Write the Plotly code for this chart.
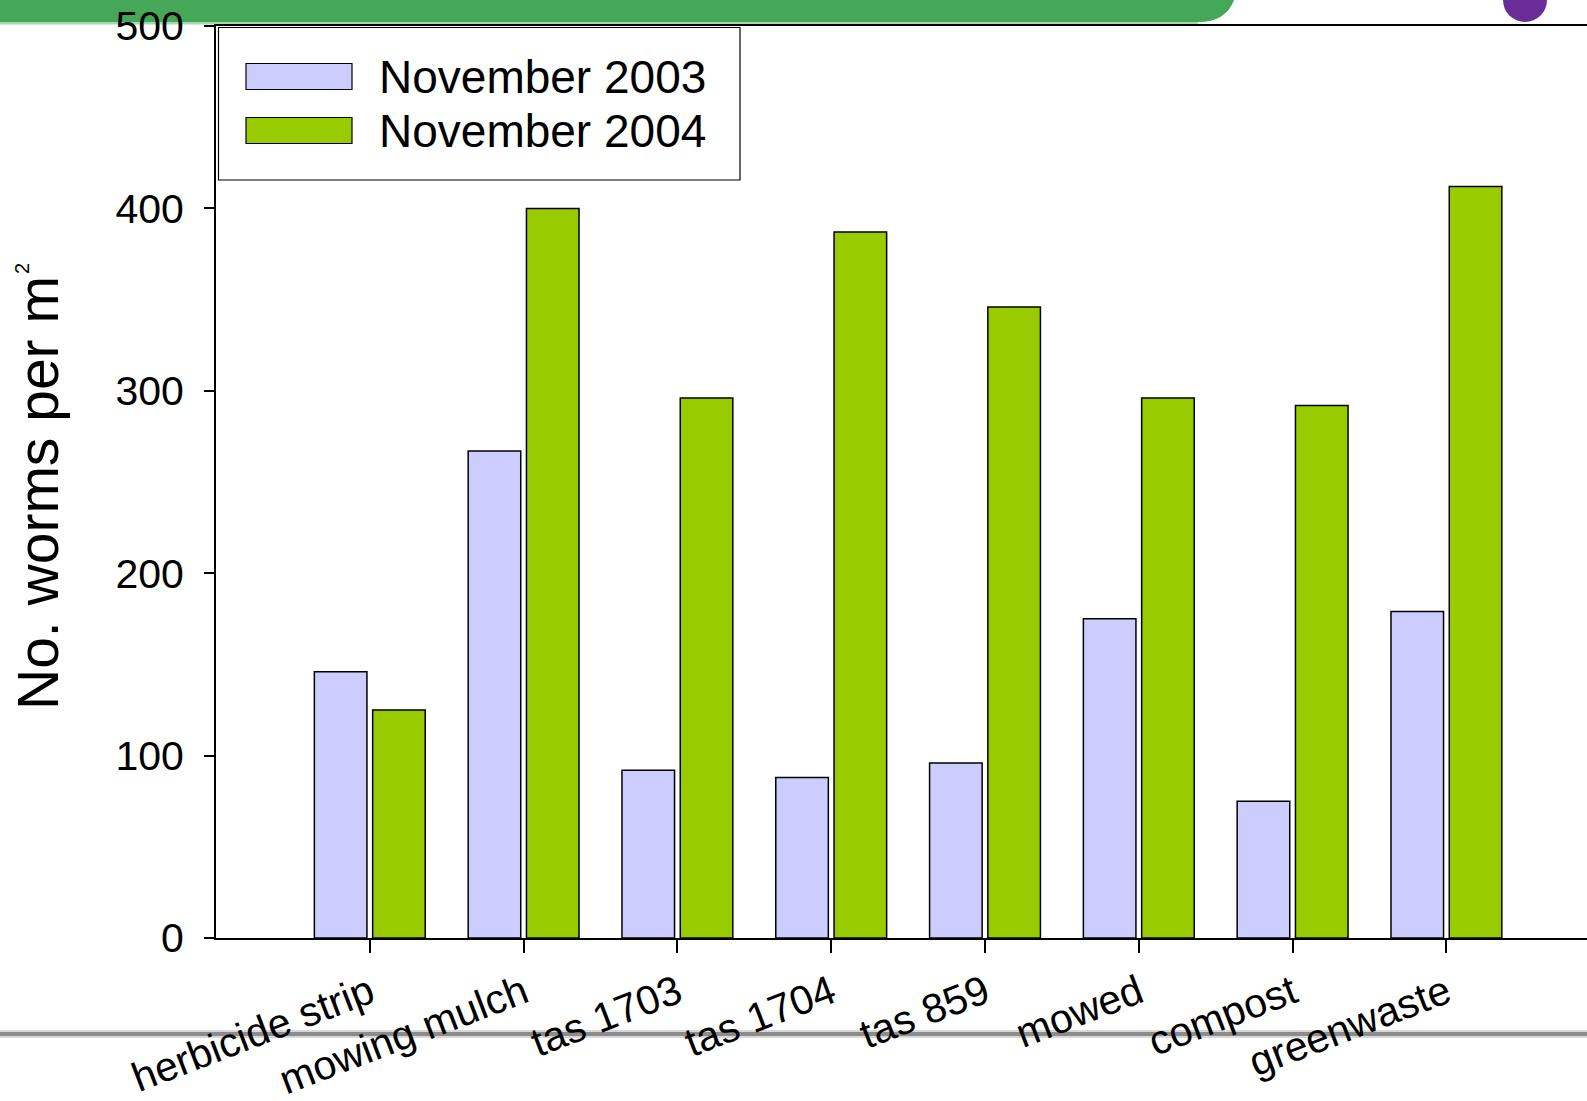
import plotly.graph_objects as go

# Earthworm counts per treatment, two sampling dates
treatments = ["herbicide strip", "mowing mulch", "tas 1703", "tas 1704",
              "tas 859", "mowed", "compost", "greenwaste"]
series_names = ["November 2003", "November 2004"]
nov_2003 = [146, 267, 92, 88, 96, 175, 75, 179]
nov_2004 = [125, 400, 296, 387, 346, 296, 292, 412]
y_ticks = [0, 100, 200, 300, 400, 500]

colors = ["#CCCCFF", "#99CC00"]
FONT = "Arial, 'Liberation Sans', sans-serif"

W, H = 1587, 1101
ML, MR, MT, MB = 216, 0, 26, 163
PW = W - ML - MR
PH = H - MT - MB


def px(x):
    return (x - ML) / PW


def py(y):
    return (H - MB - y) / PH


fig = go.Figure()
for name, vals, col in zip(series_names, [nov_2003, nov_2004], colors):
    fig.add_trace(go.Bar(
        x=treatments, y=vals, name=name,
        marker=dict(color=col, line=dict(color="black", width=1.5)),
        showlegend=False,
    ))

shapes = []
# slide header band
shapes.append(dict(type="path", xref="paper", yref="paper", layer="below",
                   path=(f"M {px(0)},{py(0)} L {px(1234)},{py(0)} "
                         f"Q {px(1226)},{py(22)} {px(1198)},{py(22)} "
                         f"L {px(0)},{py(22)} Z"),
                   fillcolor="#45A858", line=dict(width=0)))
shapes.append(dict(type="rect", xref="paper", yref="paper", layer="below",
                   x0=px(0), x1=px(1198), y0=py(22), y1=py(24.5),
                   fillcolor="#A9D6B2", line=dict(width=0)))
# purple dot
shapes.append(dict(type="circle", xref="paper", yref="paper", layer="below",
                   x0=px(1503), x1=px(1547), y0=py(22), y1=py(-22),
                   fillcolor="#6A2C96", line=dict(width=0)))
# footer rule
shapes.append(dict(type="rect", xref="paper", yref="paper", layer="below",
                   x0=px(0), x1=px(W), y0=py(1038), y1=py(1030),
                   fillcolor="#D8D8D8", line=dict(width=0)))
shapes.append(dict(type="rect", xref="paper", yref="paper", layer="below",
                   x0=px(0), x1=px(W), y0=py(1036), y1=py(1032),
                   fillcolor="#8C8C8C", line=dict(width=0)))

# legend box with wide swatches
shapes.append(dict(type="rect", xref="paper", yref="paper",
                   x0=px(218.5), x1=px(740), y0=py(180), y1=py(27.5),
                   fillcolor="white", line=dict(color="black", width=1.2)))
annotations = []
for i, (name, col) in enumerate(zip(series_names, colors)):
    top = 63.5 + i * 54
    shapes.append(dict(type="rect", xref="paper", yref="paper",
                       x0=px(246), x1=px(352), y0=py(top + 26), y1=py(top),
                       fillcolor=col, line=dict(color="black", width=1.2)))
    annotations.append(dict(xref="paper", yref="paper", x=px(377),
                            y=py(top + 13.5), xanchor="left", yanchor="middle",
                            text=name, showarrow=False,
                            font=dict(family=FONT, size=46, color="black")))

# y-axis title, with a small raised "2" for square metres
annotations.append(dict(xref="paper", yref="paper", x=px(38), y=py(493),
                        xanchor="center", yanchor="middle", textangle=-90,
                        text="No. worms per m", showarrow=False,
                        font=dict(family=FONT, size=57, color="black")))
annotations.append(dict(xref="paper", yref="paper", x=px(22), y=py(269),
                        xanchor="center", yanchor="middle", textangle=-90,
                        text="2", showarrow=False,
                        font=dict(family=FONT, size=20, color="black")))

fig.update_layout(
    width=W, height=H,
    margin=dict(l=ML, r=MR, t=MT, b=MB, autoexpand=False),
    paper_bgcolor="white", plot_bgcolor="rgba(0,0,0,0)",
    barmode="group", bargap=0.242, bargroupgap=0.098,
    font=dict(family=FONT, color="black"),
    shapes=shapes, annotations=annotations,
    showlegend=False,
)
fig.update_xaxes(
    type="category", range=[-1, -1 + PW / 153.8],
    showline=True, linecolor="black", linewidth=2, mirror=True,
    ticks="outside", ticklen=13, tickwidth=2, tickcolor="black",
    tickangle=-21, tickfont=dict(family=FONT, size=41),
    showgrid=False, zeroline=False, automargin=False,
)
fig.update_yaxes(
    range=[0, 500], tickvals=y_ticks,
    showline=True, linecolor="black", linewidth=2,
    ticks="outside", ticklen=10, tickwidth=2, tickcolor="black",
    tickfont=dict(family=FONT, size=41), ticklabelstandoff=12,
    showgrid=False, zeroline=False, automargin=False,
)

fig.write_html("out.html")
